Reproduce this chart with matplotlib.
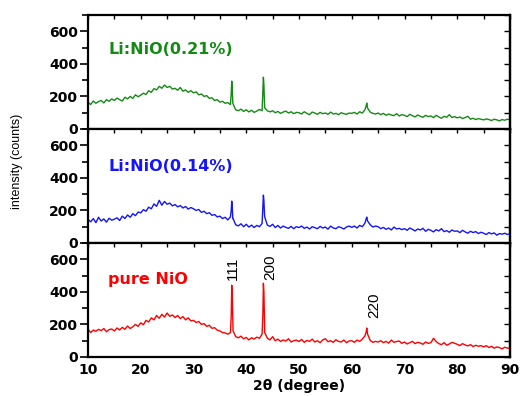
import numpy as np
import matplotlib
matplotlib.use('Agg')
import matplotlib.pyplot as plt
from matplotlib.ticker import MultipleLocator

# 2theta grid, 0.5 degree steps (10 ... 90)
theta = np.arange(161) * 0.5 + 10

# pure NiO
nio = [172, 150, 165, 158, 170, 162, 175, 155, 168, 172,
       160, 178, 166, 182, 170, 190, 175, 186, 200, 188,
       210, 198, 225, 215, 240, 228, 255, 238, 262, 245,
       270, 250, 258, 242, 255, 236, 248, 228, 240, 222,
       225, 212, 218, 200, 205, 188, 195, 176, 180, 165,
       160, 150, 148, 140, 150, 160, 125, 118, 128, 112,
       120, 105, 118, 110, 122, 115, 140, 150, 115, 105,
       125, 100, 110, 95, 105, 98, 112, 92, 100, 104,
       95, 108, 90, 102, 96, 110, 92, 100, 88, 105,
       112, 94, 100, 90, 106, 96, 92, 104, 88, 98,
       100, 90, 104, 96, 110, 130, 140, 102, 90, 96,
       92, 100, 88, 96, 85, 104, 90, 95, 98, 84,
       92, 80, 88, 96, 82, 90, 86, 78, 92, 84,
       88, 115, 95, 82, 76, 88, 72, 80, 90, 84,
       78, 70, 82, 74, 68, 76, 64, 72, 66, 70,
       62, 70, 58, 66, 54, 62, 58, 50, 60, 55,
       52]
nio_peak_x = [37.15, 37.25, 37.35, 37.45, 43.15, 43.25, 43.35, 43.45, 62.7, 62.85]
nio_peak_y = [250, 441, 380, 220, 260, 453, 400, 230, 150, 178]

# Li:NiO 0.14%
li14 = [145, 130, 150, 125, 158, 135, 148, 128, 152, 140,
        146, 155, 138, 165, 150, 172, 158, 180, 168, 190,
        185, 205, 195, 220, 210, 240, 225, 262, 232, 255,
        238, 245, 228, 236, 222, 230, 215, 224, 208, 218,
        210, 200, 206, 188, 195, 180, 186, 170, 175, 160,
        165, 150, 158, 142, 160, 150, 112, 105, 118, 100,
        115, 98, 110, 95, 108, 100, 120, 160, 110, 102,
        115, 95, 108, 92, 104, 96, 90, 102, 88, 100,
        95, 104, 90, 98, 86, 100, 94, 88, 102, 92,
        98, 85, 104, 92, 88, 100, 94, 86, 98, 104,
        96, 104, 92, 108, 100, 122, 135, 112, 98, 104,
        100, 88, 96, 84, 92, 80, 98, 86, 90, 82,
        88, 78, 92, 84, 74, 86, 80, 90, 72, 84,
        78, 68, 82, 74, 88, 70, 76, 66, 80, 72,
        74, 64, 78, 68, 60, 72, 64, 70, 58, 66,
        60, 52, 64, 56, 62, 48, 58, 54, 60, 52,
        58]
li14_peak_x = [37.15, 37.25, 37.35, 37.45, 43.15, 43.25, 43.35, 43.45, 62.7, 62.85]
li14_peak_y = [200, 257, 220, 150, 220, 294, 260, 180, 145, 159]

# Li:NiO 0.21%
li21 = [165, 150, 172, 158, 168, 175, 160, 180, 170, 185,
        175, 190, 180, 172, 195, 185, 200, 188, 210, 198,
        208, 220, 212, 235, 225, 248, 240, 262, 250, 270,
        255, 262, 245, 250, 238, 255, 232, 240, 225, 235,
        222, 228, 210, 215, 200, 205, 188, 192, 175, 180,
        165, 170, 158, 162, 150, 155, 118, 112, 122, 108,
        118, 105, 115, 102, 110, 120, 112, 130, 112, 105,
        112, 100, 108, 96, 104, 110, 98, 106, 94, 102,
        100, 92, 106, 96, 88, 104, 98, 90, 102, 94,
        98, 90, 104, 92, 96, 88, 100, 94, 90, 98,
        96, 102, 92, 106, 98, 118, 128, 104, 96, 92,
        98, 88, 96, 84, 92, 86, 82, 94, 80, 88,
        84, 76, 90, 82, 74, 86, 78, 72, 84, 76,
        80, 70, 84, 74, 66, 78, 72, 88, 70, 76,
        68, 74, 64, 70, 78, 60, 66, 58, 64, 60,
        56, 62, 58, 52, 60, 56, 50, 58, 54, 60,
        56]
li21_peak_x = [37.15, 37.25, 37.35, 37.45, 43.15, 43.25, 43.35, 43.45, 62.7, 62.85]
li21_peak_y = [220, 294, 250, 160, 230, 318, 270, 160, 140, 159]


def merge(base, px, py):
    x = np.concatenate([theta, px])
    y = np.concatenate([np.array(base, float), py])
    order = np.argsort(x)
    return x[order], y[order]


panels = [
    (li21, li21_peak_x, li21_peak_y, '#148a14', 'Li:NiO(0.21%)', 490),
    (li14, li14_peak_x, li14_peak_y, '#1414ff', 'Li:NiO(0.14%)', 471),
    (nio, nio_peak_x, nio_peak_y, '#ff0000', 'pure NiO', 478),
]

fig = plt.figure(figsize=(5.2, 3.96), dpi=100)
left, width, h = 88 / 520, 422 / 520, 114 / 396
bottoms = [(396 - 129) / 396, (396 - 243) / 396, (396 - 357) / 396]

axes = []
for i, (base, px, py, col, name, ty) in enumerate(panels):
    ax = fig.add_axes([left, bottoms[i], width, h])
    x, y = merge(base, px, py)
    ax.plot(x, y, color=col, linewidth=1.0)
    ax.set_xlim(10, 90)
    ax.set_ylim(0, 700)
    ax.yaxis.set_major_locator(MultipleLocator(200))
    ax.yaxis.set_minor_locator(MultipleLocator(100))
    ax.xaxis.set_major_locator(MultipleLocator(10))
    ax.xaxis.set_minor_locator(MultipleLocator(5))
    for s in ax.spines.values():
        s.set_linewidth(1.6)
    ax.tick_params(axis='y', which='both', left=True, right=False, direction='out',
                   width=1.2, labelsize=10, pad=1)
    ax.tick_params(axis='y', which='major', length=6)
    ax.tick_params(axis='y', which='minor', length=4)
    ax.tick_params(axis='x', which='both', bottom=False, top=True, direction='in',
                   length=3, width=1.0, labelsize=10, pad=4)
    # right side inward ticks
    sec = ax.secondary_yaxis('right')
    sec.yaxis.set_major_locator(MultipleLocator(100))
    sec.tick_params(direction='in', length=4, width=1.0, labelright=False)
    sec.spines['right'].set_linewidth(1.6)
    for lab in ax.get_yticklabels():
        lab.set_fontweight('bold')
    ax.text(13.8, ty, name, color=col, fontsize=11.5, fontweight='bold',
            va='center', ha='left')
    if i < 2:
        ax.tick_params(axis='x', labelbottom=False)
    else:
        for lab in ax.get_xticklabels():
            lab.set_fontweight('bold')
    axes.append(ax)

ax = axes[2]
ax.text(37.5, 542, '111', rotation=90, ha='center', va='center',
        fontsize=11, family='Liberation Sans')
ax.text(44.6, 551, '200', rotation=90, ha='center', va='center',
        fontsize=11, family='Liberation Sans')
ax.text(64.2, 318, '220', rotation=90, ha='center', va='center',
        fontsize=11, family='Liberation Sans')
ax.set_xlabel('2θ (degree)', fontsize=10, fontweight='bold', labelpad=2)

fig.text(17 / 520, 1 - 161 / 396, 'intensity (counts)', rotation=90,
         ha='center', va='center', fontsize=9, family='Liberation Sans')

fig.savefig('out.png', dpi=100)
